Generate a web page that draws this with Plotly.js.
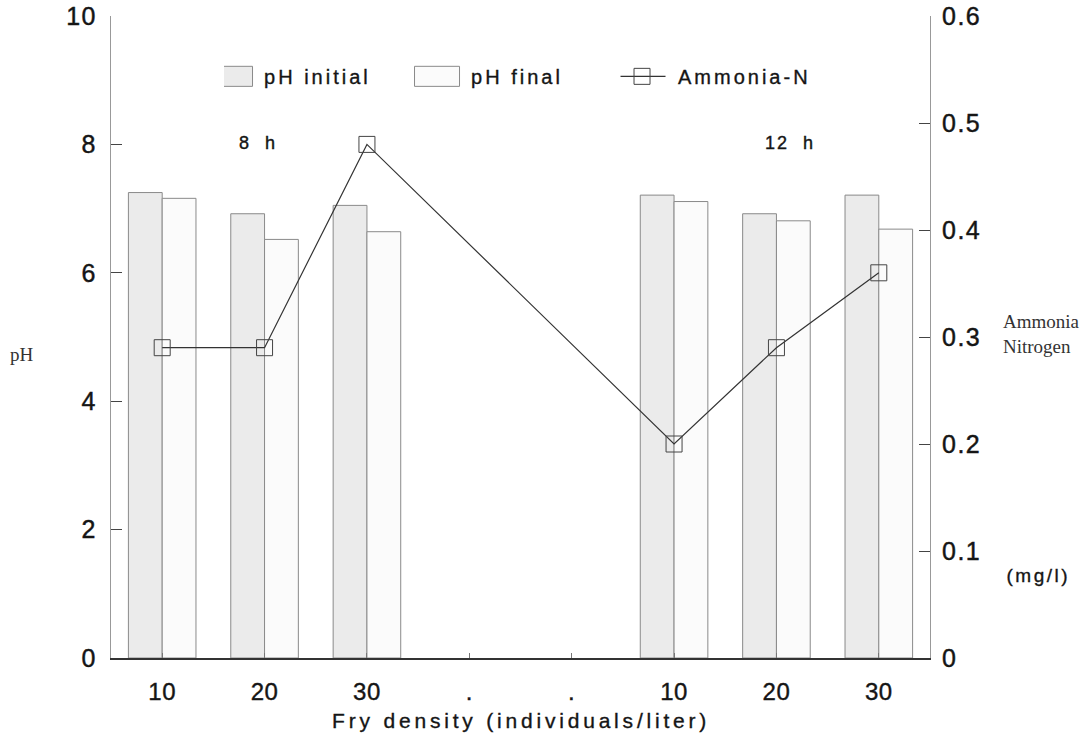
<!DOCTYPE html>
<html>
<head>
<meta charset="utf-8">
<script src="https://cdn.plot.ly/plotly-3.0.1.min.js"></script>
<style>
html,body{margin:0;padding:0;background:#fff;}
#chart{width:1091px;height:739px;}
.legendtext{letter-spacing:3px;stroke:#151515;stroke-width:0.35px;}
.legend .traces:nth-child(1) .legendpoints path,
.legend .traces:nth-child(2) .legendpoints path{transform:translate(6px,0px) scale(3.75,1.67) !important;vector-effect:non-scaling-stroke;}
.legend .traces:nth-child(3) .legendlines path{transform:translate(-25px,0px) scale(1.5,1) !important;vector-effect:non-scaling-stroke;}
.legend .traces:nth-child(3) .legendpoints path{transform:translate(4px,0px) !important;}
.annotation[data-index="0"] text,.annotation[data-index="1"] text{letter-spacing:2px;stroke:#151515;stroke-width:0.4px;}
.annotation[data-index="4"] text{letter-spacing:2.5px;stroke:#151515;stroke-width:0.35px;}
.annotation[data-index="5"] text{letter-spacing:3.8px;stroke:#151515;stroke-width:0.35px;}
.ytick text,.y2tick text{letter-spacing:1.5px;stroke:#151515;stroke-width:0.45px;}
.xtick text{letter-spacing:0.5px;stroke:#151515;stroke-width:0.4px;}
[class*="ylines"] path,[class*="y2lines"] path{stroke-dasharray:2 2;}
</style>
</head>
<body>
<div id="chart"></div>
<script>
// Category positions and tick labels
const positions = [0, 1, 2, 3, 4, 5, 6, 7];
const tickLabels = ["10", "20", "30", ".", ".", "10", "20", "30"];

// pH values (8 h: densities 10,20,30; 12 h: densities 10,20,30)
const barPositions = [0, 1, 2, 5, 6, 7];
const phInitial = [7.25, 6.92, 7.05, 7.21, 6.92, 7.21];
const phFinal = [7.16, 6.52, 6.64, 7.11, 6.81, 6.68];

// Ammonia-N (mg/l)
const ammoniaPositions = [0, 1, 2, 5, 6, 7];
const ammoniaN = [0.29, 0.29, 0.48, 0.20, 0.29, 0.36];

const sans = "Liberation Sans, Arial, sans-serif";
const serif = "Liberation Serif, DejaVu Serif, serif";
const ink = "#151515";

const traces = [
  {
    type: "bar", name: "pH initial", x: barPositions, y: phInitial,
    marker: {color: "#ebebeb", line: {color: "#8a8a8a", width: 1}},
    hoverinfo: "skip"
  },
  {
    type: "bar", name: "pH final", x: barPositions, y: phFinal,
    marker: {color: "#fbfbfb", line: {color: "#8a8a8a", width: 1}},
    hoverinfo: "skip"
  },
  {
    type: "scatter", mode: "lines+markers", name: "Ammonia-N",
    x: ammoniaPositions, y: ammoniaN, yaxis: "y2",
    line: {color: "#333", width: 1.2},
    marker: {symbol: "square-open", size: 16, color: "#444", line: {width: 1}}
  }
];

const layout = {
  width: 1091, height: 739,
  margin: {l: 111, r: 161, t: 16, b: 81},
  paper_bgcolor: "#fff", plot_bgcolor: "#fff",
  font: {family: sans, color: ink},
  showlegend: true,
  legend: {
    orientation: "h", x: 0.138, y: 0.906, xanchor: "left", yanchor: "middle",
    entrywidth: 162, entrywidthmode: "pixels",
    font: {family: sans, size: 20, color: ink},
    bgcolor: "rgba(0,0,0,0)"
  },
  barmode: "group", bargap: 0.34, bargroupgap: 0,
  xaxis: {
    range: [-0.5, 7.5], tickmode: "array", tickvals: positions, ticktext: tickLabels,
    showgrid: false, zeroline: false, showline: true, linecolor: "#333", linewidth: 1.5,
    ticks: "inside", ticklen: 5, tickcolor: "#777",
    ticklabelstandoff: 12,
    tickfont: {family: sans, size: 24, color: ink}
  },
  yaxis: {
    range: [0, 10], tickvals: [0, 2, 4, 6, 8, 10],
    showgrid: false, zeroline: false, showline: true, linecolor: "#999", linewidth: 1,
    ticks: "inside", ticklen: 11, tickcolor: "#444",
    ticklabelstandoff: 8,
    tickfont: {family: sans, size: 25, color: ink}
  },
  yaxis2: {
    overlaying: "y", side: "right", range: [0, 0.6],
    tickvals: [0, 0.1, 0.2, 0.3, 0.4, 0.5, 0.6],
    showgrid: false, zeroline: false, showline: true, linecolor: "#999", linewidth: 1,
    ticks: "inside", ticklen: 11, tickcolor: "#444",
    ticklabelstandoff: 6,
    tickfont: {family: sans, size: 25, color: ink}
  },
  annotations: [
    {xref: "paper", yref: "paper", x: 0.180, y: 0.802, xanchor: "center", yanchor: "middle",
     text: "8\u00a0\u00a0h", showarrow: false, font: {family: sans, size: 18, color: ink}},
    {xref: "paper", yref: "paper", x: 0.829, y: 0.802, xanchor: "center", yanchor: "middle",
     text: "12\u00a0\u00a0h", showarrow: false, font: {family: sans, size: 18, color: ink}},
    {xref: "paper", yref: "paper", x: -0.109, y: 0.473, xanchor: "center", yanchor: "middle",
     text: "pH", showarrow: false, font: {family: serif, size: 19, color: "#333"}},
    {xref: "paper", yref: "paper", x: 1.087, y: 0.505, xanchor: "left", yanchor: "middle", align: "left",
     text: "Ammonia<br>Nitrogen", showarrow: false, font: {family: serif, size: 19, color: "#333"}},
    {xref: "paper", yref: "paper", x: 1.132, y: 0.129, xanchor: "center", yanchor: "middle",
     text: "(mg/l)", showarrow: false, font: {family: sans, size: 19, color: ink}},
    {xref: "paper", yref: "paper", x: 0.5, y: -0.097, xanchor: "center", yanchor: "middle",
     text: "Fry density (individuals/liter)", showarrow: false, font: {family: sans, size: 21, color: ink}}
  ]
};

Plotly.newPlot("chart", traces, layout, {displayModeBar: false, staticPlot: true});
</script>
</body>
</html>
